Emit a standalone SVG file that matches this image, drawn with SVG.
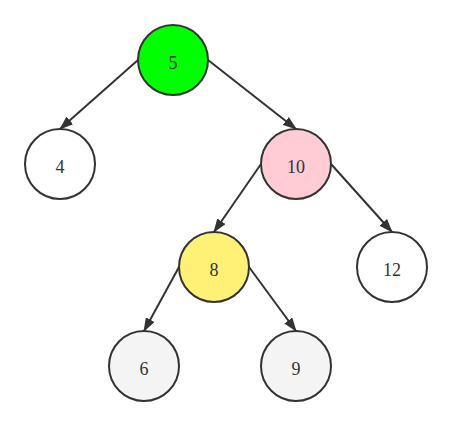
<svg xmlns="http://www.w3.org/2000/svg" width="452" height="426" viewBox="0 0 452 426">
<style>
.n circle{stroke:#333;stroke-width:2}
.n text{font-family:"Liberation Serif",serif;font-size:18px;fill:#333;text-anchor:middle}
.e line{stroke:#333;stroke-width:2;marker-end:url(#ah)}
</style>
<defs>
<marker id="ah" viewBox="0 0 14 10" refX="13" refY="5" markerWidth="14" markerHeight="10" markerUnits="userSpaceOnUse" orient="auto">
<path d="M0,0 L14,5 L0,10 Z" fill="#333"/>
</marker>
</defs>
<rect width="452" height="426" fill="#fff"/>
<g id="connectors" class="e">
<line x1="138" y1="60" x2="60" y2="129"/>
<line x1="208" y1="60" x2="296" y2="129"/>
<line x1="261" y1="164" x2="214" y2="232"/>
<line x1="331" y1="164" x2="392" y2="232"/>
<line x1="179" y1="267" x2="144" y2="331"/>
<line x1="249" y1="267" x2="296" y2="331"/>
</g>
<g id="n5" class="n"><circle cx="173" cy="60" r="35" fill="#00ff00"/><text x="173" y="69">5</text></g>
<g id="n4" class="n"><circle cx="60" cy="164" r="35" fill="#fff"/><text x="60" y="173">4</text></g>
<g id="n10" class="n"><circle cx="296" cy="164" r="35" fill="#ffccd5"/><text x="296" y="173">10</text></g>
<g id="n8" class="n"><circle cx="214" cy="267" r="35" fill="#fff176"/><text x="214" y="276">8</text></g>
<g id="n12" class="n"><circle cx="392" cy="267" r="35" fill="#fff"/><text x="392" y="276">12</text></g>
<g id="n6" class="n"><circle cx="144" cy="366" r="35" fill="#f4f4f4"/><text x="144" y="375">6</text></g>
<g id="n9" class="n"><circle cx="296" cy="366" r="35" fill="#f4f4f4"/><text x="296" y="375">9</text></g>
</svg>
